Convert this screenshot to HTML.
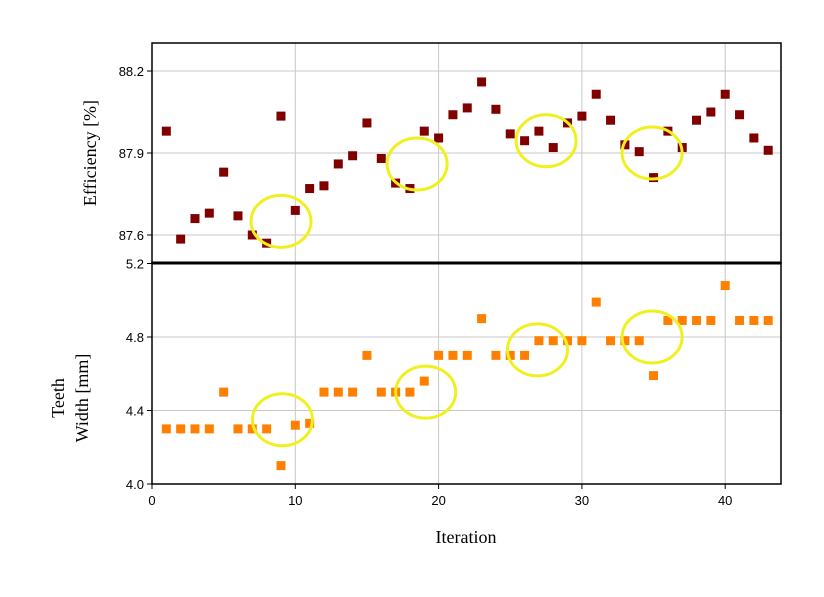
<!DOCTYPE html>
<html><head><meta charset="utf-8"><style>
body{margin:0;background:#fff;}
svg text{font-family:"Liberation Serif",serif;fill:#000;}
svg text.tick{font-family:"Liberation Sans",sans-serif;}
</style></head><body>
<svg id="chart" width="824" height="592" xmlns="http://www.w3.org/2000/svg"></svg>
<script>
const iterations=[1,2,3,4,5,6,7,8,9,10,11,12,13,14,15,16,17,18,19,20,21,22,23,24,25,26,27,28,29,30,31,32,33,34,35,36,37,38,39,40,41,42,43];
const efficiency=[87.98,87.585,87.66,87.68,87.83,87.67,87.6,87.57,88.035,87.69,87.77,87.78,87.86,87.89,88.01,87.88,87.79,87.77,87.98,87.955,88.04,88.065,88.16,88.06,87.97,87.945,87.98,87.92,88.01,88.035,88.115,88.02,87.93,87.905,87.81,87.98,87.92,88.02,88.05,88.115,88.04,87.955,87.91];
const teethWidth=[4.3,4.3,4.3,4.3,4.5,4.3,4.3,4.3,4.1,4.32,4.33,4.5,4.5,4.5,4.7,4.5,4.5,4.5,4.56,4.7,4.7,4.7,4.9,4.7,4.7,4.7,4.78,4.78,4.78,4.78,4.99,4.78,4.78,4.78,4.59,4.89,4.89,4.89,4.89,5.08,4.89,4.89,4.89];
const xTicks=[0,10,20,30,40];
const effTicks=[87.6,87.9,88.2];
const widthTicks=[4.0,4.4,4.8,5.2];
const topHighlights=[[9,87.65],[18.5,87.86],[27.5,87.945],[34.9,87.9]];
const bottomHighlights=[[9.1,4.35],[19.1,4.5],[26.9,4.73],[34.9,4.8]];

const svg=document.getElementById('chart');
const NS='http://www.w3.org/2000/svg';
const L=152,R=781,T=43,M=263,B=484;
const xs=v=>L+v*14.33;
const ysTop=v=>235-(v-87.6)*273.3;
const ysBot=v=>B-(v-4.0)*183.75;
function el(tag,attrs,parent){const e=document.createElementNS(NS,tag);for(const k in attrs)e.setAttribute(k,attrs[k]);(parent||svg).appendChild(e);return e;}

xTicks.forEach(t=>{if(t===0)return;
 const g=el('line',{x1:xs(t),x2:xs(t),y1:T,y2:B,stroke:'#c8c8c8','stroke-width':1});
 
 });
effTicks.forEach(t=>{const g=el('line',{x1:L,x2:R,y1:ysTop(t),y2:ysTop(t),stroke:'#c8c8c8','stroke-width':1});
 
 });
widthTicks.forEach(t=>{const g=el('line',{x1:L,x2:R,y1:ysBot(t),y2:ysBot(t),stroke:'#c8c8c8','stroke-width':1});
 
 });

iterations.forEach((it,i)=>{
 const p=el('rect',{x:xs(it)-4.5,y:ysTop(efficiency[i])-4.5,width:9,height:9,fill:'#800000'});
 
 
 const q=el('rect',{x:xs(it)-4.5,y:ysBot(teethWidth[i])-4.5,width:9,height:9,fill:'#ff8000'});
 
 
});
topHighlights.forEach(h=>{const c=el('ellipse',{cx:xs(h[0]),cy:ysTop(h[1]),rx:30,ry:26,fill:'none',stroke:'#f0f020','stroke-width':3});
 
 });
bottomHighlights.forEach(h=>{const c=el('ellipse',{cx:xs(h[0]),cy:ysBot(h[1]),rx:30,ry:26,fill:'none',stroke:'#f0f020','stroke-width':3});
 
 });

let f=el('rect',{x:L,y:T,width:R-L,height:M-T,fill:'none',stroke:'#000','stroke-width':1.5});

f=el('rect',{x:L,y:M,width:R-L,height:B-M,fill:'none',stroke:'#000','stroke-width':1.5});

el('line',{x1:L,x2:R,y1:M,y2:M,stroke:'#000','stroke-width':3});

xTicks.forEach(t=>{el('line',{x1:xs(t),x2:xs(t),y1:B,y2:B+5,stroke:'#000'});
 const tx=el('text',{x:xs(t),y:B+21,'text-anchor':'middle','font-size':13,'class':'tick'});tx.textContent=t;
 });
effTicks.forEach(t=>{el('line',{x1:L-5,x2:L,y1:ysTop(t),y2:ysTop(t),stroke:'#000'});
 const tx=el('text',{x:L-8,y:ysTop(t)+5,'text-anchor':'end','font-size':13,'class':'tick'});tx.textContent=t.toFixed(1);
 });
widthTicks.forEach(t=>{el('line',{x1:L-5,x2:L,y1:ysBot(t),y2:ysBot(t),stroke:'#000'});
 const tx=el('text',{x:L-8,y:ysBot(t)+5,'text-anchor':'end','font-size':13,'class':'tick'});tx.textContent=t.toFixed(1);
 });
</script>
<div style="position:absolute;left:0;top:0;width:824px;height:592px;pointer-events:none">
<svg width="824" height="592">
<text x="466" y="543" text-anchor="middle" font-size="18">Iteration</text>
<text transform="translate(96,153) rotate(-90)" text-anchor="middle" font-size="18">Efficiency [%]</text>
<text transform="translate(64,398) rotate(-90)" text-anchor="middle" font-size="18">Teeth</text>
<text transform="translate(88,398) rotate(-90)" text-anchor="middle" font-size="18">Width [mm]</text>
</svg></div>
</body></html>
